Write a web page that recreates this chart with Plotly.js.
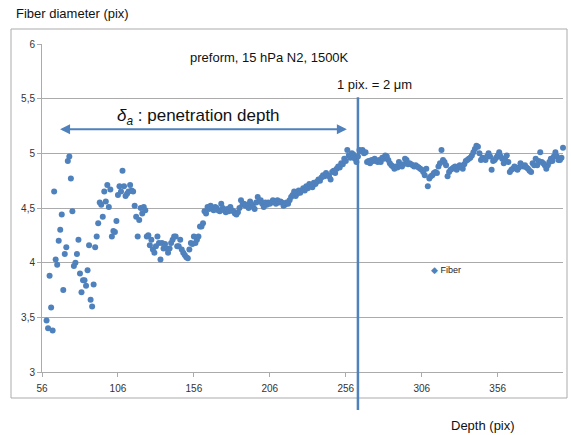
<!DOCTYPE html>
<html>
<head>
<meta charset="utf-8">
<script src="https://cdn.plot.ly/plotly-3.0.1.min.js"></script>
<style>html,body{margin:0;padding:0;background:#fff;}#chart{width:571px;height:435px;}</style>
</head>
<body>
<div id="chart"></div>
<script>
// Depth (pix) of the first measured point; each following value is the next pixel of depth
const firstDepth = 59;
// Fiber diameter (pix), one value per depth pixel
const diameter = [
  3.47,3.40,3.88,3.59,3.38,4.65,4.03,3.98,4.20,4.30,
  4.44,3.75,4.08,4.14,4.93,4.97,4.77,4.47,3.97,4.00,
  4.08,4.21,3.90,3.73,3.84,3.84,3.79,3.93,4.16,3.66,
  3.60,3.80,4.14,4.24,4.36,4.55,4.53,4.42,4.65,4.56,
  4.71,4.51,4.67,4.24,4.29,4.28,4.38,4.62,4.70,4.65,
  4.84,4.70,4.61,4.63,4.65,4.71,4.66,4.65,4.52,4.42,
  4.24,4.39,4.50,4.45,4.51,4.48,4.24,4.25,4.16,4.21,
  4.12,4.09,4.15,4.24,4.18,4.03,4.18,4.13,4.17,4.13,
  4.09,4.13,4.18,4.21,4.24,4.24,4.15,4.15,4.21,4.12,
  4.09,4.07,4.05,4.04,4.12,4.18,4.17,4.24,4.18,4.21,
  4.24,4.33,4.33,4.36,4.47,4.45,4.51,4.49,4.52,4.50,
  4.48,4.51,4.50,4.48,4.47,4.54,4.50,4.48,4.46,4.49,
  4.47,4.51,4.48,4.47,4.45,4.44,4.46,4.50,4.57,4.53,
  4.54,4.52,4.53,4.50,4.56,4.53,4.51,4.49,4.55,4.60,
  4.56,4.57,4.54,4.51,4.55,4.53,4.55,4.54,4.55,4.57,
  4.56,4.54,4.57,4.55,4.56,4.55,4.52,4.53,4.55,4.54,
  4.57,4.60,4.62,4.65,4.61,4.63,4.66,4.64,4.66,4.68,
  4.66,4.70,4.68,4.72,4.71,4.69,4.73,4.72,4.74,4.76,
  4.75,4.78,4.80,4.79,4.82,4.80,4.79,4.76,4.83,4.84,
  4.82,4.86,4.88,4.87,4.91,4.90,4.95,4.93,5.03,4.98,
  4.96,5.00,4.99,4.95,4.92,4.97,5.03,5.02,5.03,5.00,
  5.01,4.92,4.93,4.91,4.94,4.93,4.95,4.93,4.92,4.94,
  4.92,4.96,4.95,4.98,4.97,4.94,4.91,4.89,4.88,4.86,
  4.88,4.87,4.92,4.89,4.88,4.90,4.95,4.94,4.90,4.91,
  4.90,4.89,4.88,4.89,4.88,4.87,4.86,4.85,4.83,4.80,
  4.86,4.70,4.77,4.79,4.80,4.82,4.83,4.82,4.88,4.91,
  5.03,4.94,4.92,4.89,4.79,4.83,4.85,4.86,4.87,4.88,
  4.85,4.87,4.89,4.88,4.86,4.90,4.93,4.94,4.95,4.96,
  4.98,5.01,5.04,5.07,5.06,5.00,4.94,4.96,4.95,4.94,
  4.97,5.00,4.97,4.85,4.93,4.94,4.96,4.98,5.01,4.97,
  4.95,4.91,4.94,4.98,4.92,4.83,4.85,4.86,4.88,4.87,
  4.85,4.87,4.91,4.89,4.88,4.89,4.87,4.86,4.84,4.83,
  4.91,4.89,4.95,4.89,4.93,5.01,4.92,4.91,4.89,4.86,
  4.89,4.92,4.95,4.93,4.97,5.01,4.97,4.94,4.94,4.96,
  5.05
];
const depth = diameter.map((_, i) => firstDepth + i);

const xTickVals = [56, 106, 156, 206, 256, 306, 356];
const xTickText = ['56', '106', '156', '206', '256', '306', '356'];
const yTickVals = [3, 3.5, 4, 4.5, 5, 5.5, 6];
const yTickText = ['3', '3,5', '4', '4,5', '5', '5,5', '6'];

const seriesName = 'Fiber';
const penetrationEnd = 264;     // vertical marker (depth pix)
const arrowFrom = 66.9, arrowTo = 256.7, arrowLevel = 5.22;

const blue = '#4f81bd';
const grid = '#ababab';
const font = 'Liberation Sans, Arial, sans-serif';

const trace = {
  x: depth, y: diameter, type: 'scatter', mode: 'markers', name: seriesName,
  marker: {color: blue, size: 6, symbol: 'circle', line: {width: 0}},
  cliponaxis: false, showlegend: false
};

const layout = {
  width: 571, height: 435,
  margin: {l: 42, r: 8, t: 44, b: 63},
  paper_bgcolor: '#fff', plot_bgcolor: '#fff',
  font: {family: font, size: 10, color: '#222'},
  showlegend: false,
  xaxis: {
    range: [56, 399], tickmode: 'array', tickvals: xTickVals, ticktext: xTickText,
    showgrid: false, zeroline: false, showline: true, linecolor: grid, linewidth: 1,
    ticks: 'outside', ticklen: 4, tickcolor: grid, tickfont: {size: 10, color: '#333'},
    ticklabelstandoff: 3
  },
  yaxis: {
    range: [3, 6], tickmode: 'array', tickvals: yTickVals, ticktext: yTickText,
    showgrid: true, gridcolor: grid, gridwidth: 1, zeroline: false,
    showline: true, linecolor: grid, linewidth: 1,
    ticks: 'outside', ticklen: 4, tickcolor: grid, tickfont: {size: 10, color: '#333'}
  },
  shapes: [
    {type: 'rect', xref: 'paper', yref: 'paper', x0: -0.0595, x1: 1.0077, y0: -0.0793, y1: 1.0457,
     line: {color: grid, width: 1}, fillcolor: 'rgba(0,0,0,0)', layer: 'below'},
    {type: 'line', xref: 'x', yref: 'paper', x0: penetrationEnd, x1: penetrationEnd, y0: -0.116, y1: 0.838,
     line: {color: blue, width: 2.5}}
  ],
  annotations: [
    {text: 'Fiber diameter (pix)', xref: 'paper', yref: 'paper', x: -0.0537, y: 1.0915,
     xanchor: 'left', yanchor: 'middle', showarrow: false, font: {size: 13, color: '#111'}},
    {text: 'Depth (pix)', xref: 'paper', yref: 'paper', x: 0.8455, y: -0.1646,
     xanchor: 'center', yanchor: 'middle', showarrow: false, font: {size: 13, color: '#111'}},
    {text: 'preform, 15 hPa N2, 1500K', xref: 'paper', yref: 'paper', x: (188 - 42) / 521, y: (372 - 57) / 328,
     xanchor: 'left', yanchor: 'middle', showarrow: false, font: {size: 13, color: '#111'}},
    {text: '1 pix. = 2 μm', xref: 'paper', yref: 'paper', x: (335 - 42) / 521, y: (372 - 84) / 328,
     xanchor: 'left', yanchor: 'middle', showarrow: false, font: {size: 13, color: '#111'}},
    {text: '<i>δ</i><sub><i>a</i></sub> : penetration depth', xref: 'paper', yref: 'paper',
     x: (115 - 42) / 521, y: (372 - 117) / 328,
     xanchor: 'left', yanchor: 'middle', showarrow: false, font: {size: 17, color: '#111'}},
    {text: '', x: arrowTo, y: arrowLevel, ax: arrowFrom, ay: arrowLevel, xref: 'x', yref: 'y',
     axref: 'x', ayref: 'y', showarrow: true, arrowhead: 2, startarrowhead: 2, arrowside: 'end+start',
     arrowsize: 1, startarrowsize: 1, arrowwidth: 2, arrowcolor: blue, standoff: 0, startstandoff: 0},
    {text: '<span style="color:' + blue + '">◆</span> ' + seriesName, xref: 'paper', yref: 'paper',
     x: (429 - 42) / 521, y: (372 - 270) / 328, xanchor: 'left', yanchor: 'middle',
     showarrow: false, font: {size: 9, color: '#222'}}
  ]
};

Plotly.newPlot('chart', [trace], layout, {displayModeBar: false, staticPlot: true});
</script>
</body>
</html>
